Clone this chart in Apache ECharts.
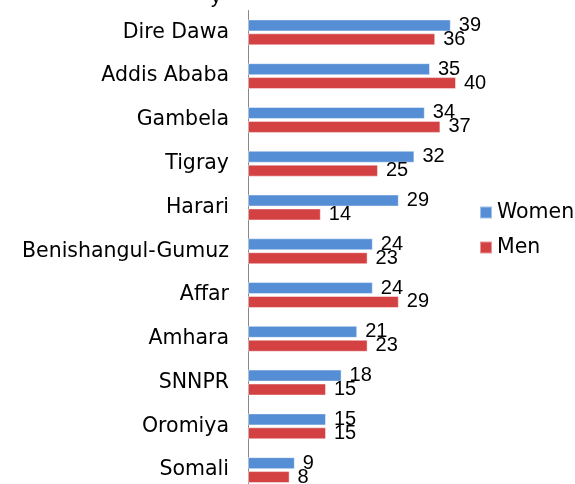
<!DOCTYPE html>
<html>
<head>
<meta charset="utf-8">
<script src="https://cdn.jsdelivr.net/npm/echarts@6/dist/echarts.min.js"></script>
<style>
  html, body { margin: 0; padding: 0; background: #fff; overflow: hidden; }
  /* a bit taller than the window: the last bar runs off the bottom edge */
  #chart { width: 575px; height: 492px; }
</style>
</head>
<body>
<div id="chart"></div>
<script>
// regions, bottom to top (category axis is drawn from the bottom up)
const regions = ['Somali', 'Oromiya', 'SNNPR', 'Amhara', 'Affar', 'Benishangul-Gumuz',
  'Harari', 'Tigray', 'Gambela', 'Addis Ababa', 'Dire Dawa'];
const women = [9, 15, 18, 21, 24, 24, 29, 32, 34, 35, 39];
const men = [8, 15, 15, 23, 29, 23, 14, 25, 37, 40, 36];

const chart = echarts.init(document.getElementById('chart'));

const wideFont = 'DejaVu Sans, sans-serif';   // category + legend text is wide
const numFont = 'Liberation Sans, Arial, sans-serif';

const labelStyle = {
  show: true,
  position: 'right',
  distance: 8,
  color: '#000',
  fontSize: 20,
  fontFamily: numFont
};

const option = {
  animation: false,
  textStyle: { fontFamily: numFont },
  title: {
    // only the bottom of the title line shows in the picture
    text: 'y',
    left: 206,
    top: -18,
    textStyle: { fontSize: 20, fontWeight: 'normal', color: '#000', fontFamily: numFont }
  },
  legend: {
    orient: 'vertical',
    left: 474,
    top: 197,
    icon: 'rect',
    itemWidth: 12,
    itemHeight: 12,
    itemGap: 14,
    textStyle: { fontSize: 20.5, color: '#000', fontFamily: wideFont },
    data: ['Women', 'Men']
  },
  grid: {
    left: 248,
    top: 10.5,
    bottom: 0,
    width: 234,
    containLabel: false
  },
  xAxis: {
    type: 'value',
    min: 0,
    max: 45,
    show: false
  },
  yAxis: {
    type: 'category',
    data: regions,
    axisLine: { show: true, lineStyle: { color: '#888', width: 1 } },
    axisTick: { show: false },
    axisLabel: { fontSize: 20.5, color: '#000', margin: 19, fontFamily: wideFont }
  },
  series: [
    {
      name: 'Women',
      type: 'bar',
      data: women,
      barWidth: 12,
      barGap: '16%',
      itemStyle: { color: '#558ED5', borderColor: 'rgba(255,255,255,0.45)', borderWidth: 1 },
      label: labelStyle,
      z: 2
    },
    {
      name: 'Men',
      type: 'bar',
      data: men,
      barWidth: 12,
      barGap: '16%',
      itemStyle: { color: '#D44143', borderColor: 'rgba(255,255,255,0.45)', borderWidth: 1 },
      label: labelStyle,
      z: 2
    }
  ]
};

option && chart.setOption(option);
</script>
</body>
</html>
